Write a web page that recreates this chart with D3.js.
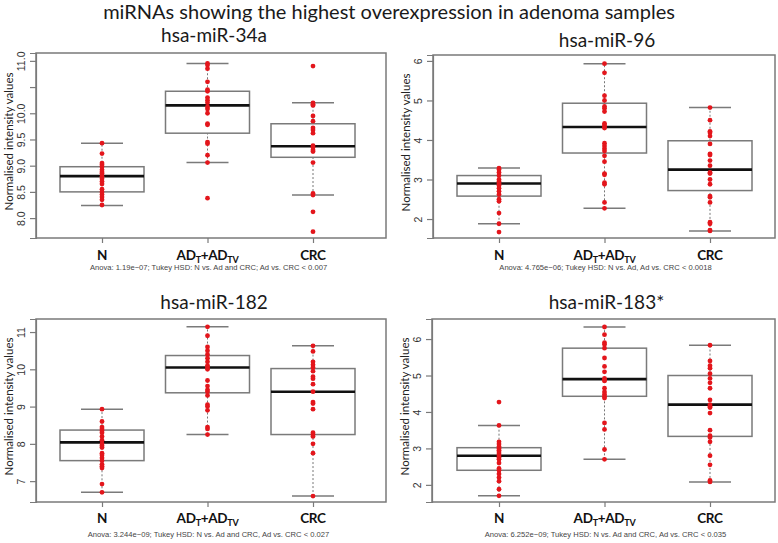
<!DOCTYPE html>
<html>
<head>
<meta charset="utf-8">
<script src="https://cdn.jsdelivr.net/npm/d3@7"></script>
<style>
  body { margin: 0; background: #fff; }
  svg { display: block; }
</style>
</head>
<body>
<svg width="778" height="543"></svg>
<script>
// ---- data ----
var mainTitle = "miRNAs showing the highest overexpression in adenoma samples";
var categories = ["N", "AD", "CRC"];
var panelTitles = ["hsa-miR-34a", "hsa-miR-96", "hsa-miR-182", "hsa-miR-183*"];
var captions = [
  "Anova: 1.19e\u221207; Tukey HSD: N vs. Ad and CRC; Ad vs. CRC < 0.007",
  "Anova: 4.765e\u221206; Tukey HSD: N vs. Ad, Ad vs. CRC  < 0.0018",
  "Anova: 3.244e\u221209; Tukey HSD: N vs. Ad and CRC, Ad vs. CRC < 0.027",
  "Anova: 6.252e\u221209; Tukey HSD: N vs. Ad and CRC, Ad vs. CRC < 0.035"
];

// y axis
var yDomains = [[7.62, 11.15], [1.52, 6.15], [6.44, 11.35], [1.53, 6.55]];
var tickValues = [
  [8, 8.5, 9, 9.5, 10, 10.5, 11],
  [2, 3, 4, 5, 6],
  [7, 8, 9, 10, 11],
  [2, 3, 4, 5, 6]
];
var tickLabels = [
  ["8.0", "8.5", "9.0", "9.5", "10.0", "", "11.0"],
  ["2", "3", "4", "5", "6"],
  ["7", "8", "9", "10", "11"],
  ["2", "3", "4", "5", "6"]
];

// box stats per category: [lower whisker, Q1, median, Q3, upper whisker]
var stats34a = [[8.24, 8.5, 8.8, 8.98, 9.43], [9.06, 9.62, 10.15, 10.42, 10.95], [8.44, 9.16, 9.37, 9.8, 10.2]];
var stats96 = [[1.88, 2.58, 2.9, 3.1, 3.29], [2.27, 3.67, 4.33, 4.93, 5.93], [1.7, 2.72, 3.25, 3.98, 4.82]];
var stats182 = [[6.7, 7.55, 8.04, 8.37, 8.93], [8.25, 9.37, 10.05, 10.37, 11.14], [6.6, 8.25, 9.4, 10.02, 10.63]];
var stats183 = [[1.7, 2.4, 2.8, 3.02, 3.63], [2.7, 4.43, 4.9, 5.75, 6.33], [2.08, 3.33, 4.2, 5.0, 5.83]];

// individual samples (red dots)
var pts34a = [
  [9.43, 9.23, 9.05, 9.02, 8.98, 8.92, 8.88, 8.85, 8.8, 8.75, 8.7, 8.65, 8.55, 8.5, 8.45, 8.4, 8.35, 8.25],
  [10.95, 10.92, 10.85, 10.6, 10.45, 10.42, 10.3, 10.25, 10.2, 10.12, 10.08, 10.0, 9.8, 9.78, 9.45, 9.42, 9.2, 9.06, 8.38],
  [10.9, 10.2, 10.17, 10.15, 9.95, 9.85, 9.72, 9.68, 9.62, 9.38, 9.35, 9.3, 9.27, 9.06, 8.47, 8.44, 8.12, 7.74]
];
var pts96 = [
  [3.29, 3.25, 3.18, 3.1, 3.0, 2.95, 2.9, 2.85, 2.78, 2.7, 2.62, 2.5, 2.45, 2.15, 1.88, 1.67],
  [5.93, 5.7, 5.12, 5.0, 4.85, 4.8, 4.72, 4.42, 4.38, 4.33, 4.3, 3.92, 3.85, 3.78, 3.72, 3.6, 3.45, 3.15, 3.12, 2.92, 2.88, 2.42, 2.27],
  [4.82, 4.5, 4.22, 4.18, 4.1, 3.9, 3.65, 3.62, 3.48, 3.35, 3.18, 3.15, 3.0, 2.88, 2.58, 2.55, 2.42, 1.92, 1.88, 1.72, 1.7]
];
var pts182 = [
  [8.93, 8.6, 8.45, 8.4, 8.35, 8.3, 8.2, 8.1, 8.0, 7.95, 7.9, 7.75, 7.7, 7.62, 7.55, 7.45, 7.4, 7.35, 6.92, 6.7],
  [11.14, 10.9, 10.6, 10.5, 10.4, 10.3, 10.2, 10.1, 10.05, 10.0, 9.7, 9.55, 9.45, 9.4, 9.3, 9.05, 9.0, 8.9, 8.45, 8.4, 8.25],
  [10.63, 10.48, 10.2, 10.12, 10.05, 9.95, 9.8, 9.75, 9.6, 9.4, 9.12, 9.08, 8.93, 8.3, 8.25, 8.2, 8.0, 7.75, 6.6]
];
var pts183 = [
  [4.27, 3.63, 3.18, 3.12, 3.05, 3.0, 2.95, 2.9, 2.85, 2.8, 2.75, 2.7, 2.6, 2.45, 2.4, 2.3, 2.2, 2.1, 1.88, 1.7],
  [6.33, 6.12, 5.9, 5.85, 5.75, 5.48, 5.25, 5.1, 4.92, 4.88, 4.85, 4.65, 4.55, 4.48, 4.42, 4.38, 3.7, 3.52, 2.97, 2.7],
  [5.83, 5.4, 5.27, 5.2, 5.05, 4.92, 4.8, 4.65, 4.33, 4.2, 4.15, 4.12, 3.97, 3.5, 3.35, 3.3, 3.18, 2.8, 2.55, 2.12, 2.08]
];

var allStats = [stats34a, stats96, stats182, stats183];
var allPts = [pts34a, pts96, pts182, pts183];

// ---- layout ----
var frames = [
  { x0: 36, x1: 386, y0: 53, y1: 238, c0: 102, c1: 313, titleY: 42, labY: 260, capY: 270 },
  { x0: 433, x1: 775, y0: 55, y1: 238, c0: 499, c1: 710, titleY: 47, labY: 260, capY: 270 },
  { x0: 36, x1: 386, y0: 319, y1: 502, c0: 102, c1: 313, titleY: 309, labY: 523, capY: 537 },
  { x0: 432, x1: 775, y0: 319, y1: 502, c0: 499, c1: 710, titleY: 309, labY: 523, capY: 537 }
];
var boxHalf = 42;
var red = "#e3161c";
var gray = "#7a7a7a";

var svg = d3.select("svg");

svg.append("text")
  .attr("x", 389)
  .attr("y", 19)
  .attr("text-anchor", "middle")
  .style("font-family", "Lato, 'Open Sans', sans-serif")
  .style("font-size", "20px")
  .style("fill", "#1a1a1a")
  .text(mainTitle);

frames.forEach(function (f, i) {
  var g = svg.append("g");

  var xScale = d3.scalePoint().domain(categories).range([f.c0, f.c1]);
  var yScale = d3.scaleLinear().domain(yDomains[i]).range([f.y1, f.y0]);

  // panel title
  g.append("text")
    .attr("x", (f.x0 + f.x1) / 2 + 3)
    .attr("y", f.titleY)
    .attr("text-anchor", "middle")
    .style("font-family", "Lato, 'Open Sans', sans-serif")
    .style("font-size", "19px")
    .style("fill", "#1a1a1a")
    .text(panelTitles[i]);

  // frame
  g.append("rect")
    .attr("x", f.x0)
    .attr("y", f.y0)
    .attr("width", f.x1 - f.x0)
    .attr("height", f.y1 - f.y0)
    .attr("fill", "none")
    .attr("stroke", gray)
    .attr("stroke-width", 1.5);

  // y axis
  var yAxis = d3.axisLeft(yScale)
    .tickValues(tickValues[i])
    .tickFormat(function (d, k) { return tickLabels[i][k]; })
    .tickSize(6)
    .tickPadding(3);
  var ya = g.append("g")
    .attr("transform", "translate(" + f.x0 + ",0)")
    .call(yAxis);
  ya.select(".domain").attr("stroke", gray).attr("stroke-width", 1.2);
  ya.selectAll(".tick line").attr("stroke", gray).attr("stroke-width", 1.2);
  ya.selectAll(".tick text")
    .attr("transform", "rotate(-90)")
    .attr("x", 0)
    .attr("y", -11)
    .attr("dy", 0)
    .style("text-anchor", "middle")
    .style("font-family", "'Liberation Sans', Arial, sans-serif")
    .style("font-size", "10.5px")
    .style("fill", "#333");

  // y label
  g.append("text")
    .attr("transform", "translate(" + (f.x0 - 23) + "," + ((f.y0 + f.y1) / 2 - 4) + ") rotate(-90)")
    .attr("text-anchor", "middle")
    .style("font-family", "Lato, 'Open Sans', sans-serif")
    .style("font-size", "11.5px")
    .style("fill", "#222")
    .text("Normalised intensity values");

  // x axis
  var xAxis = d3.axisBottom(xScale).tickSize(5).tickFormat("");
  var xa = g.append("g")
    .attr("transform", "translate(0," + f.y1 + ")")
    .call(xAxis);
  xa.select(".domain").remove();
  xa.selectAll(".tick line").attr("stroke", gray).attr("stroke-width", 1.2);

  // category labels
  categories.forEach(function (c) {
    var t = g.append("text")
      .attr("x", xScale(c))
      .attr("y", f.labY)
      .attr("text-anchor", "middle")
      .style("font-family", "Lato, 'Open Sans', sans-serif")
      .style("font-weight", "bold")
      .style("font-size", "13.5px")
      .style("letter-spacing", "-0.3px")
      .style("fill", "#111");
    if (c === "AD") {
      t.append("tspan").text("AD");
      t.append("tspan").attr("dy", 2.5).style("font-size", "9px").text("T");
      t.append("tspan").attr("dy", -2.5).text("+AD");
      t.append("tspan").attr("dy", 2.5).style("font-size", "9px").text("TV");
    } else {
      t.text(c);
    }
  });

  // caption
  g.append("text")
    .attr("x", (f.c0 + f.c1) / 2 + 1)
    .attr("y", f.capY)
    .attr("text-anchor", "middle")
    .style("font-family", "'Liberation Sans', Arial, sans-serif")
    .style("font-size", "7.6px")
    .style("fill", "#444")
    .text(captions[i]);

  // boxplots
  var st = allStats[i];
  var boxes = g.selectAll(".box")
    .data(categories.map(function (c, k) { return { cat: c, s: st[k] }; }))
    .enter()
    .append("g")
    .attr("class", "box");

  // whiskers (dotted)
  boxes.append("line")
    .attr("x1", d => xScale(d.cat)).attr("x2", d => xScale(d.cat))
    .attr("y1", d => yScale(d.s[0])).attr("y2", d => yScale(d.s[1]))
    .attr("stroke", "#777").attr("stroke-width", 1).attr("stroke-dasharray", "2,2");
  boxes.append("line")
    .attr("x1", d => xScale(d.cat)).attr("x2", d => xScale(d.cat))
    .attr("y1", d => yScale(d.s[3])).attr("y2", d => yScale(d.s[4]))
    .attr("stroke", "#777").attr("stroke-width", 1).attr("stroke-dasharray", "2,2");
  // caps
  [0, 4].forEach(function (k) {
    boxes.append("line")
      .attr("x1", d => xScale(d.cat) - boxHalf / 2).attr("x2", d => xScale(d.cat) + boxHalf / 2)
      .attr("y1", d => yScale(d.s[k])).attr("y2", d => yScale(d.s[k]))
      .attr("stroke", gray).attr("stroke-width", 1.5);
  });
  // box
  boxes.append("rect")
    .attr("x", d => xScale(d.cat) - boxHalf)
    .attr("width", boxHalf * 2)
    .attr("y", d => yScale(d.s[3]))
    .attr("height", d => yScale(d.s[1]) - yScale(d.s[3]))
    .attr("fill", "#fff")
    .attr("stroke", gray)
    .attr("stroke-width", 1.5);
  // median
  boxes.append("line")
    .attr("x1", d => xScale(d.cat) - boxHalf).attr("x2", d => xScale(d.cat) + boxHalf)
    .attr("y1", d => yScale(d.s[2])).attr("y2", d => yScale(d.s[2]))
    .attr("stroke", "#111").attr("stroke-width", 2.6);

  // points
  var pts = [];
  allPts[i].forEach(function (arr, k) {
    arr.forEach(function (v) { pts.push({ cat: categories[k], v: v }); });
  });
  g.selectAll(".pt")
    .data(pts)
    .enter()
    .append("circle")
    .attr("class", "pt")
    .attr("cx", d => xScale(d.cat))
    .attr("cy", d => yScale(d.v))
    .attr("r", 2.4)
    .attr("fill", red);
});
</script>
</body>
</html>
